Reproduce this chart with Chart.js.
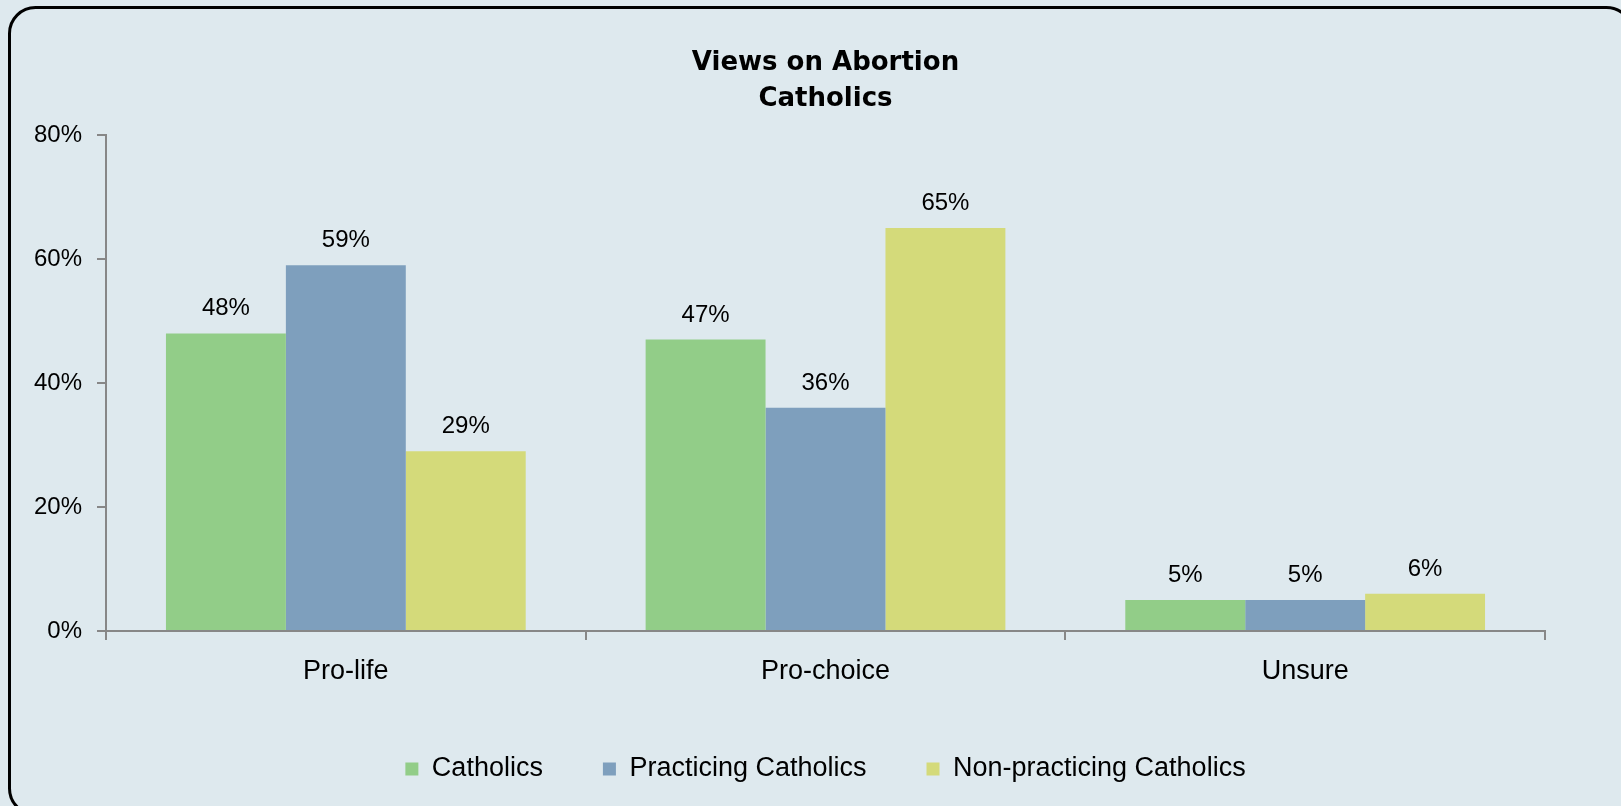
<!DOCTYPE html>
<html>
<head>
<meta charset="utf-8">
<title>Views on Abortion - Catholics</title>
<script src="https://cdn.jsdelivr.net/npm/chart.js@4.4.1/dist/chart.umd.min.js"></script>
<style>
  html, body { margin: 0; padding: 0; background: #DEE9EE; overflow: hidden; }
  canvas { display: block; }
</style>
</head>
<body>
<canvas id="chart" width="1621" height="806"></canvas>
<script>
var categories = ["Pro-life", "Pro-choice", "Unsure"];
var seriesNames = ["Catholics", "Practicing Catholics", "Non-practicing Catholics"];
var catholics = [48, 47, 5];
var practicing = [59, 36, 5];
var nonPracticing = [29, 65, 6];
var yTicks = [0, 20, 40, 60, 80];

var colors = ["#92CD88", "#7E9FBD", "#D4DA7A"];
var axisColor = "#878787";

// light panel with a rounded black border, partly cut off at right and bottom
var panel = {
	id: "panel",
	beforeDraw: function (chart) {
		var ctx = chart.ctx;
		ctx.save();
		ctx.fillStyle = "#DEE9EE";
		ctx.fillRect(0, 0, chart.width, chart.height);
		ctx.strokeStyle = "#000";
		ctx.lineWidth = 3;
		ctx.beginPath();
		ctx.roundRect(9.5, 7.5, chart.width + 2, chart.height + 1, 26);
		ctx.stroke();
		ctx.restore();
	}
};

// value labels above each bar
var valueLabels = {
	id: "valueLabels",
	afterDatasetsDraw: function (chart) {
		var ctx = chart.ctx;
		ctx.save();
		ctx.font = "24px 'Liberation Sans'";
		ctx.fillStyle = "#000";
		ctx.textAlign = "center";
		ctx.textBaseline = "alphabetic";
		chart.data.datasets.forEach(function (ds, i) {
			chart.getDatasetMeta(i).data.forEach(function (bar, j) {
				ctx.fillText(ds.data[j] + "%", bar.x, bar.y - 18);
			});
		});
		ctx.restore();
	}
};

var data = {
	labels: categories,
	datasets: [
		{ label: seriesNames[0], data: catholics, backgroundColor: colors[0] },
		{ label: seriesNames[1], data: practicing, backgroundColor: colors[1] },
		{ label: seriesNames[2], data: nonPracticing, backgroundColor: colors[2] }
	]
};

var options = {
	responsive: false,
	animation: false,
	layout: { padding: { top: 0, left: 0, right: 76, bottom: 13.5 } },
	datasets: { bar: { categoryPercentage: 0.75, barPercentage: 1.0 } },
	plugins: {
		title: {
			display: true,
			fullSize: false,
			text: ["Views on Abortion", "Catholics"],
			color: "#000",
			font: { family: "'DejaVu Sans'", size: 26, weight: "bold", lineHeight: 1.38 },
			padding: { top: 45, bottom: 18.2 }
		},
		legend: {
			display: true,
			position: "bottom",
			fullSize: false,
			labels: {
				color: "#000",
				font: { family: "'Liberation Sans'", size: 27 },
				boxWidth: 13,
				boxHeight: 13,
				padding: 60
			}
		},
		tooltip: { enabled: false }
	},
	scales: {
		x: {
			grid: { offset: true, drawOnChartArea: false, drawTicks: true, tickLength: 9, color: axisColor, lineWidth: 2 },
			border: { color: axisColor, width: 2 },
			ticks: { color: "#000", font: { family: "'Liberation Sans'", size: 27 }, padding: 15, maxRotation: 0 },
			afterFit: function (scale) { scale.height = 64.5; }
		},
		y: {
			min: yTicks[0],
			max: yTicks[yTicks.length - 1],
			afterBuildTicks: function (scale) {
				scale.ticks = yTicks.map(function (v) { return { value: v }; });
			},
			grid: { drawOnChartArea: false, drawTicks: true, tickLength: 9, color: axisColor, lineWidth: 2 },
			border: { color: axisColor, width: 2 },
			ticks: {
				color: "#000",
				font: { family: "'Liberation Sans'", size: 24 },
				padding: 15,
				callback: function (v) { return v + "%"; }
			},
			afterFit: function (scale) { scale.width = 106; }
		}
	}
};

var chart = new Chart(document.getElementById("chart"), {
	type: "bar",
	data: data,
	options: options,
	plugins: [panel, valueLabels]
});
</script>
</body>
</html>
